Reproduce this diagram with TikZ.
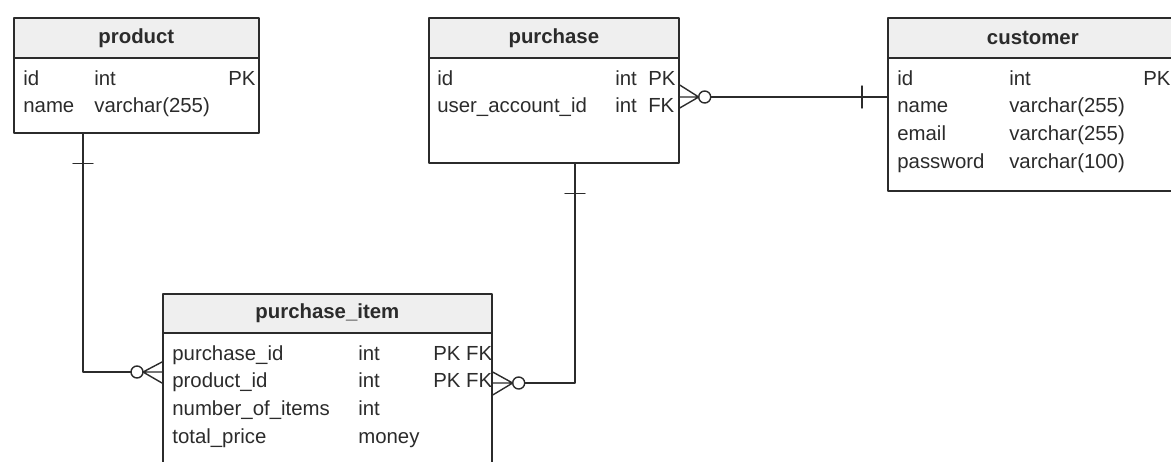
\documentclass[tikz,border=0pt]{standalone}
\usepackage{fontspec}
\setmainfont{Liberation Sans}
\usetikzlibrary{calc}
\definecolor{ink}{HTML}{2B2B2B}
\definecolor{headgray}{HTML}{EFEFEF}
\begin{document}
\begin{tikzpicture}[x=0.02cm, y=-0.02cm, line join=round, line cap=round, color=ink,
	font=\fontsize{11.6}{15.9}\selectfont,
	head/.style={draw, fill=headgray, line width=1pt, anchor=north west, inner sep=0pt, minimum height=0.8cm, font=\fontsize{11.6}{15.9}\selectfont\bfseries},
	body/.style={draw, line width=1pt, anchor=north west, inner sep=0pt},
	cols/.style={anchor=base west, inner sep=0pt},
	rel/.style={line width=0.8pt}]
	\useasboundingbox (0,0) rectangle (1171,461);
	\clip (0,0) rectangle (1171,461);
	% product
	\node[body, minimum width=4.9cm, minimum height=1.5cm] (product-body) at (13,57) {};
	\node[head, minimum width=4.9cm] (product-head) at (13,17) {product};
	\node[cols] (product-cols) at ($(product-body.north west)+(10,28)$) {\begin{tabular}[t]{@{}p{1.42cm}@{}p{2.68cm}@{}l@{}}
		id & int & PK\\
		name & varchar(255) &
	\end{tabular}};
	% purchase
	\node[body, minimum width=5cm, minimum height=2.1cm] (purchase-body) at (428,57) {};
	\node[head, minimum width=5cm] (purchase-head) at (428,17) {purchase};
	\node[cols] (purchase-cols) at ($(purchase-body.north west)+(9,28)$) {\begin{tabular}[t]{@{}p{3.56cm}@{}p{0.66cm}@{}l@{}}
		id & int & PK\\
		user\_account\_id & int & FK
	\end{tabular}};
	% customer
	\node[body, minimum width=5.8cm, minimum height=2.66cm] (customer-body) at (887,57) {};
	\node[head, minimum width=5.8cm] (customer-head) at (887,17) {customer};
	\node[cols] (customer-cols) at ($(customer-body.north west)+(10,28)$) {\begin{tabular}[t]{@{}p{2.24cm}@{}p{2.68cm}@{}l@{}}
		id & int & PK\\
		name & varchar(255) & \\
		email & varchar(255) & \\
		password & varchar(100) &
	\end{tabular}};
	% purchase_item
	\node[body, minimum width=6.58cm, minimum height=3cm] (item-body) at (162,332) {};
	\node[head, minimum width=6.58cm, minimum height=0.78cm] (item-head) at (162,293) {purchase\_item};
	\node[cols] (item-cols) at ($(item-body.north west)+(10,28)$) {\begin{tabular}[t]{@{}p{3.72cm}@{}p{1.5cm}@{}l@{}}
		purchase\_id & int & PK FK\\
		product\_id & int & PK FK\\
		number\_of\_items & int & \\
		total\_price & money &
	\end{tabular}};
	% product -- purchase_item
	\coordinate (c1) at ($(item-body.north west)+(0,40)$);
	\draw[rel] (product-body.south west) ++(70,0) |- ($(c1)+(-31,0)$);
	\draw[rel] (product-body.south west) ++(60,30) -- ++(20,0);
	\draw[rel, fill=white] ($(c1)+(-25,0)$) circle[radius=0.12cm];
	\draw[rel] (c1) ++(0,-10) -- ++(-19,10) -- ++(19,11) ($(c1)+(-19,0)$) -- (c1);
	% purchase -- purchase_item
	\coordinate (c2) at ($(item-body.north east)+(0,51)$);
	\draw[rel] (purchase-body.south west) ++(147,0) |- ($(c2)+(32,0)$);
	\draw[rel] (purchase-body.south west) ++(137,30) -- ++(20,0);
	\draw[rel, fill=white] ($(c2)+(26,0)$) circle[radius=0.12cm];
	\draw[rel] (c2) ++(0,-11) -- ++(20,11) -- ++(-20,12) ($(c2)+(20,0)$) -- (c2);
	% purchase -- customer
	\coordinate (c3) at ($(purchase-body.north east)+(0,40)$);
	\draw[rel] ($(c3)+(31,0)$) -- (customer-body.west |- c3);
	\draw[rel] ($(customer-body.north west)+(-25,29)$) -- ++(0,22);
	\draw[rel, fill=white] ($(c3)+(25,0)$) circle[radius=0.12cm];
	\draw[rel] (c3) ++(0,-12) -- ++(19,12) -- ++(-19,11) ($(c3)+(19,0)$) -- (c3);
\end{tikzpicture}
\end{document}
